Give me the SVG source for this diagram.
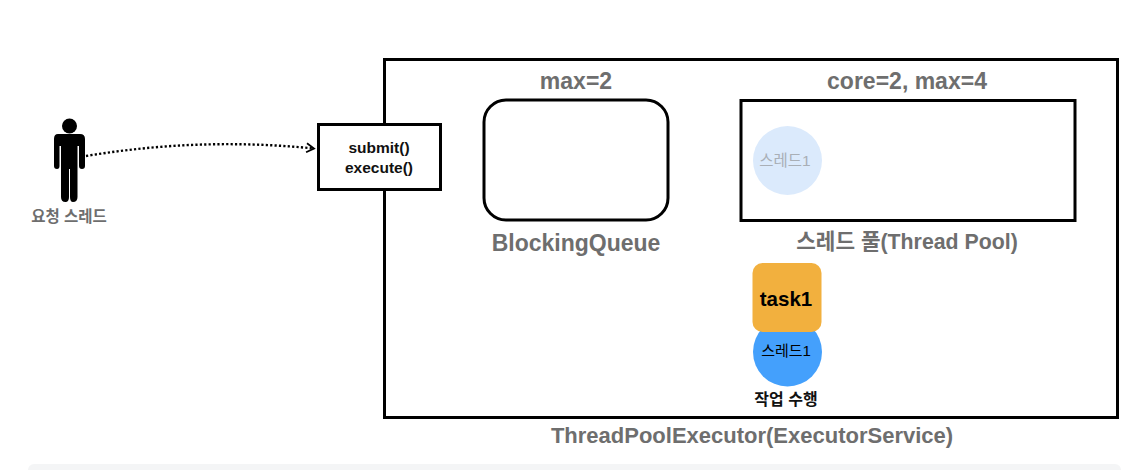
<svg xmlns="http://www.w3.org/2000/svg" width="1148" height="470" viewBox="0 0 1148 470">
<style>
text{font-family:"Liberation Sans","Noto Sans CJK KR",sans-serif;text-anchor:middle}
.b{fill:none;stroke:#000;stroke-width:3}
.g{fill:#6e6e6e;font-weight:700}
.k{fill:#000}
.m{fill:#111;font-weight:700}
</style>
<defs>
<marker id="arrow" markerWidth="12" markerHeight="12" refX="9" refY="6" orient="auto" markerUnits="userSpaceOnUse">
<path d="M1.500 1.500L9 6L1.500 10.500" fill="none" stroke="#000" stroke-width="1.800"/>
</marker>
</defs>
<rect width="1148" height="470" fill="#fff"/>
<rect x="28" y="464" width="1093" height="20" rx="6" fill="#f4f5f6"/>
<g id="executor">
<rect class="b" x="384.500" y="59.500" width="733" height="358"/>
<text class="g" x="752" y="443" font-size="22">ThreadPoolExecutor(ExecutorService)</text>
</g>
<g id="actor">
<circle cx="69.500" cy="126" r="7.500" fill="#000"/>
<path d="M58 134H80Q85 134 85 139V166Q85 169 82 169Q79 169 79 166V146H77.500V197Q77.500 202 73 202Q70 202 70 197V169H69V197Q69 202 65.500 202Q61 202 61 197V146H59.500V166Q59.500 169 57 169Q54 169 54 166V139Q54 134 58 134Z" fill="#000"/>
<text class="g" x="69" y="222" font-size="15.500">요청 스레드</text>
</g>
<g id="api">
<rect x="318.500" y="124.500" width="122" height="65" fill="#fff" stroke="#000" stroke-width="3"/>
<text class="m" x="379" y="153" font-size="15.500">submit()</text>
<text class="m" x="379" y="173" font-size="15.500">execute()</text>
</g>
<g id="queue">
<rect class="b" x="484" y="100" width="184" height="120" rx="22"/>
<text class="g" x="576" y="89" font-size="23">max=2</text>
<text class="g" x="576" y="251" font-size="23">BlockingQueue</text>
</g>
<g id="pool">
<rect class="b" x="741" y="100.500" width="334" height="120"/>
<text class="g" x="907" y="89" font-size="23">core=2, max=4</text>
<text class="g" x="907" y="249" font-size="21.300">스레드 풀(Thread Pool)</text>
</g>
<g id="idle-thread">
<circle cx="787.500" cy="160.500" r="34.500" fill="#dbeafc"/>
<text x="785" y="166" font-size="15.500" fill="#a9afb6">스레드1</text>
</g>
<g id="running-thread">
<circle cx="787.500" cy="352" r="34.500" fill="#44a0fc"/>
<text class="k" x="786" y="356" font-size="15">스레드1</text>
</g>
<g id="task">
<rect x="752.500" y="263" width="69" height="69" rx="10" fill="#f2b03e"/>
<text class="k" x="786" y="306" font-size="20.500" font-weight="700">task1</text>
</g>
<text class="m" x="786" y="405" font-size="16">작업 수행</text>
<g id="connectors">
<path d="M86 156Q200 137 314 148.500" fill="none" stroke="#000" stroke-width="2.400" stroke-dasharray="2.200 2.200" marker-end="url(#arrow)"/>
</g>
</svg>
